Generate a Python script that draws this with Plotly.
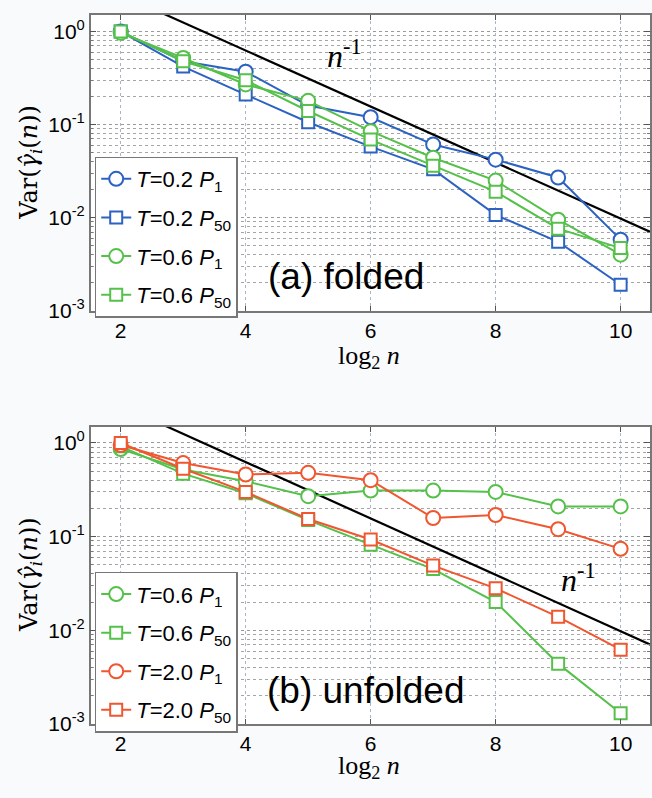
import plotly.graph_objects as go

# log2 of the sample size
log2_n = [2, 3, 4, 5, 6, 7, 8, 9, 10]

# (a) folded
fold_T02_P1 = [1.0, 0.48, 0.37, 0.16, 0.12, 0.061, 0.042, 0.027, 0.0058]
fold_T02_P50 = [1.0, 0.42, 0.21, 0.106, 0.058, 0.033, 0.0107, 0.0055, 0.0019]
fold_T06_P1 = [0.97, 0.52, 0.27, 0.18, 0.085, 0.044, 0.025, 0.0095, 0.0040]
fold_T06_P50 = [1.0, 0.48, 0.30, 0.14, 0.069, 0.036, 0.019, 0.0076, 0.0047]

# (b) unfolded
unf_T06_P1 = [0.86, 0.52, 0.39, 0.27, 0.31, 0.31, 0.30, 0.21, 0.21]
unf_T06_P50 = [0.92, 0.47, 0.29, 0.15, 0.082, 0.045, 0.020, 0.0044, 0.0013]
unf_T20_P1 = [0.95, 0.61, 0.46, 0.48, 0.40, 0.158, 0.17, 0.12, 0.074]
unf_T20_P50 = [1.0, 0.53, 0.30, 0.154, 0.093, 0.049, 0.028, 0.0139, 0.0062]

# reference slope n^-1 (prefactor 10)
ref_x = [1.4, 10.6]
ref_y = [10.0 / 2 ** v for v in ref_x]

x_ticks = [2, 4, 6, 8, 10]
y_tickvals = [1e-3, 1e-2, 1e-1, 1]
y_ticktext = ["10<sup>-3</sup>", "10<sup>-2</sup>", "10<sup>-1</sup>", "10<sup>0</sup>"]
y_minor = [m * 10.0 ** e for e in (-3, -2, -1, 0) for m in range(2, 10)]

BLUE = "#2c62c2"
GREEN = "#55c04a"
RED = "#f0562f"
SANS = "Liberation Sans, Arial, sans-serif"
SERIF = "Liberation Serif, DejaVu Serif, serif"

W, H = 652, 798
fig = go.Figure()


def add_series(y, color, symbol, name, xa, ya, legend):
    fig.add_trace(go.Scatter(
        x=log2_n, y=y, mode="lines+markers", name=name, legendgroup=name + legend,
        line=dict(color=color, width=2),
        marker=dict(symbol=symbol, size=12 if symbol == "square" else 14,
                    color="white", line=dict(color=color, width=2)),
        xaxis=xa, yaxis=ya, legend=legend,
    ))


def lbl(T, p):
    return f"<i>T</i>={T} <i>P</i><sub>{p}</sub>"


# reference lines
for xa, ya in (("x", "y"), ("x2", "y2")):
    fig.add_trace(go.Scatter(x=ref_x, y=ref_y, mode="lines",
                             line=dict(color="black", width=2.2),
                             showlegend=False, xaxis=xa, yaxis=ya,
                             hoverinfo="skip"))

add_series(fold_T02_P1, BLUE, "circle", lbl("0.2", "1"), "x", "y", "legend")
add_series(fold_T02_P50, BLUE, "square", lbl("0.2", "50"), "x", "y", "legend")
add_series(fold_T06_P1, GREEN, "circle", lbl("0.6", "1"), "x", "y", "legend")
add_series(fold_T06_P50, GREEN, "square", lbl("0.6", "50"), "x", "y", "legend")

add_series(unf_T06_P1, GREEN, "circle", lbl("0.6", "1"), "x2", "y2", "legend2")
add_series(unf_T06_P50, GREEN, "square", lbl("0.6", "50"), "x2", "y2", "legend2")
add_series(unf_T20_P1, RED, "circle", lbl("2.0", "1"), "x2", "y2", "legend2")
add_series(unf_T20_P50, RED, "square", lbl("2.0", "50"), "x2", "y2", "legend2")

x_left = 91 / W
top_dom = [1 - 315 / H, 1 - 15 / H]
bot_dom = [1 - 734 / H, 1 - 433 / H]

xcommon = dict(range=[1.52, 10.47], tickvals=x_ticks, ticks="inside", ticklen=5,
               tickcolor="#555", showline=True, linecolor="#777", linewidth=1.5,
               mirror="ticks", showgrid=True, gridcolor="#a8b6c8", griddash="dot",
               gridwidth=1, zeroline=False,
               tickfont=dict(family=SANS, size=21, color="black"))
ycommon = dict(type="log", tickvals=y_tickvals, ticktext=y_ticktext,
               ticks="inside", ticklen=6, tickcolor="#555",
               showline=True, linecolor="#777", linewidth=1.5, mirror="ticks",
               showgrid=True, gridcolor="#9a9a9a", griddash="dot", gridwidth=1,
               minor=dict(tickmode="array", tickvals=y_minor, ticks="inside",
                          ticklen=3, tickcolor="#777", showgrid=True,
                          gridcolor="#a5a5a5", griddash="dot", gridwidth=1),
               tickfont=dict(family=SANS, size=21, color="black"))

legend_common = dict(bgcolor="white", bordercolor="#777", borderwidth=1.5,
                     font=dict(family=SANS, size=22, color="black"),
                     xanchor="left", yanchor="bottom", tracegroupgap=7,
                     itemwidth=30)

fig.update_layout(
    width=W, height=H, margin=dict(l=0, r=0, t=0, b=0),
    paper_bgcolor="#f9fafc", plot_bgcolor="white",
    xaxis=dict(domain=[x_left, 1.0], anchor="y", **xcommon),
    yaxis=dict(domain=top_dom, anchor="x", range=[-3, 0.18], **ycommon),
    xaxis2=dict(domain=[x_left, 1.0], anchor="y2", **xcommon),
    yaxis2=dict(domain=bot_dom, anchor="x2", range=[-3, 0.17], **ycommon),
    legend=dict(x=95 / W, y=1 - 322 / H, **legend_common),
    legend2=dict(x=95 / W, y=1 - 743 / H, **legend_common),
)

ylabel = "Var(<i>γ\u0302<sub>i</sub></i>(<i>n</i>))"
annots = [
    dict(text="log<sub>2</sub> <i>n</i>", x=370 / W, y=1 - 362 / H,
         font=dict(family=SERIF, size=26, color="black")),
    dict(text="log<sub>2</sub> <i>n</i>", x=370 / W, y=1 - 778 / H,
         font=dict(family=SERIF, size=26, color="black")),
    dict(text=ylabel, x=31 / W, y=1 - 164 / H, textangle=-90,
         font=dict(family="DejaVu Serif, serif", size=24, color="black")),
    dict(text=ylabel, x=31 / W, y=1 - 582 / H, textangle=-90,
         font=dict(family="DejaVu Serif, serif", size=24, color="black")),
    dict(text="(a) folded", x=347 / W, y=1 - 280 / H,
         font=dict(family=SANS, size=37, color="black")),
    dict(text="(b) unfolded", x=367 / W, y=1 - 700 / H,
         font=dict(family=SANS, size=37, color="black")),
    dict(text="<i>n</i><sup>-1</sup>", x=346 / W, y=1 - 55 / H,
         font=dict(family=SERIF, size=32, color="black")),
    dict(text="<i>n</i><sup>-1</sup>", x=580 / W, y=1 - 586 / H,
         font=dict(family=SERIF, size=32, color="black")),
]
for a in annots:
    fig.add_annotation(xref="paper", yref="paper", showarrow=False,
                       xanchor="center", yanchor="middle", **a)

fig.write_html("out.html")
